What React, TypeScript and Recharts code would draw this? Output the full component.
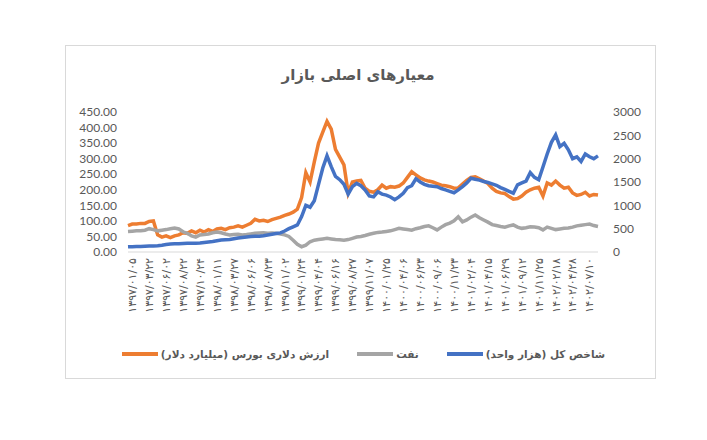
import React from "react";
import { LineChart, Line, XAxis, YAxis } from "recharts";

// تاریخ‌های محور افقی
const tickLabels = [
  "۱۳۹۷/۰۱/۰۵", "۱۳۹۷/۰۳/۲۲", "۱۳۹۷/۰۶/۰۲", "۱۳۹۷/۰۸/۲۲", "۱۳۹۷/۱۰/۲۴",
  "۱۳۹۸/۰۱/۱۱", "۱۳۹۸/۰۳/۲۷", "۱۳۹۸/۰۶/۰۶", "۱۳۹۸/۰۸/۲۳", "۱۳۹۸/۱۱/۰۲",
  "۱۳۹۹/۰۱/۲۴", "۱۳۹۹/۰۴/۰۴", "۱۳۹۹/۰۶/۱۶", "۱۳۹۹/۰۸/۲۷", "۱۳۹۹/۱۱/۰۷",
  "۱۴۰۰/۰۱/۲۵", "۱۴۰۰/۰۴/۰۶", "۱۴۰۰/۰۶/۲۳", "۱۴۰۰/۰۹/۰۶", "۱۴۰۰/۱۱/۲۳",
  "۱۴۰۱/۰۲/۰۴", "۱۴۰۱/۰۴/۱۵", "۱۴۰۱/۰۶/۲۹", "۱۴۰۱/۰۹/۱۲", "۱۴۰۱/۱۱/۲۵",
  "۱۴۰۲/۰۲/۱۸", "۱۴۰۲/۰۴/۲۸", "۱۴۰۲/۰۷/۱۰",
];

// ارزش دلاری بورس (میلیارد دلار) - محور چپ
const dollarValue = [
  85, 90, 90, 92, 92, 98, 100, 55, 48, 52,
  46, 52, 55, 62, 60, 68, 62, 70, 64, 72,
  66, 74, 76, 72, 78, 80, 84, 80, 86, 92,
  105, 100, 102, 98, 104, 108, 112, 118, 122, 128,
  138, 175, 255, 225, 290, 350, 385, 420, 395, 330,
  305, 280, 190, 225, 228, 230, 205, 195, 192, 200,
  215, 205, 210, 208, 212, 222, 240, 258, 248, 238,
  232, 228, 225, 220, 215, 213, 210, 205, 206, 218,
  230, 240, 242, 235, 228, 220, 205, 195, 190, 188,
  178, 170, 172, 180, 192, 200, 205, 208, 180, 222,
  215, 228, 215, 205, 208, 190, 182, 185, 192, 180,
  185, 183,
];

// نفت - محور چپ
const oil = [
  66, 67, 68, 68, 70, 75, 72, 68, 70, 72,
  75, 77, 74, 65, 60, 52, 48, 55, 56, 58,
  62, 64, 62, 58, 55, 56, 57, 55, 56, 58,
  60, 61, 62, 60, 61, 60, 58, 55, 50, 38,
  25, 17, 22, 33, 38, 40, 42, 44, 42, 40,
  39, 38, 40, 44, 48, 50, 53, 57, 60, 63,
  64, 66, 68, 72, 76, 74, 72, 70, 75, 78,
  82, 84, 78, 71, 80, 88, 93, 100, 113, 97,
  103, 112, 119, 110, 103, 96, 88, 85, 82, 80,
  84, 87, 80, 76, 78, 81, 80, 78, 71, 80,
  76, 72, 74, 76, 77, 80, 84, 86, 88, 90,
  85, 82,
];

// شاخص کل (هزار واحد) - محور راست
const tepix = [
  110, 115, 118, 120, 125, 128, 130, 135, 145, 160,
  172, 175, 178, 182, 185, 188, 190, 195, 205, 215,
  225, 240, 255, 262, 270, 285, 300, 310, 320, 330,
  335, 340, 350, 365, 380, 395, 410, 450, 500, 540,
  580, 760, 1000, 960, 1100, 1450, 1800, 2060, 1830, 1620,
  1550, 1450, 1240, 1400, 1470, 1420, 1330, 1200, 1180, 1290,
  1240, 1220, 1180, 1120, 1180, 1260, 1380, 1420, 1570, 1500,
  1450, 1420, 1410, 1400, 1360, 1330, 1300, 1270, 1330, 1400,
  1480, 1580, 1560, 1540, 1510, 1490, 1460, 1430, 1380, 1340,
  1300, 1260, 1440, 1480, 1520, 1700, 1600, 1550, 1820, 2100,
  2350, 2510, 2260, 2330, 2190, 2000, 2040, 1940, 2100, 2040,
  2000, 2060,
];

const leftTicks = [0, 50, 100, 150, 200, 250, 300, 350, 400, 450];
const rightTicks = [0, 500, 1000, 1500, 2000, 2500, 3000];

const data = dollarValue.map((v, i) => ({
  i,
  dollarValue: v,
  oil: oil[i],
  tepix: tepix[i],
}));
const tickIdx = tickLabels.map((_, k) => 1 + 4 * k);

const TEXT = "#595959";
const FA_FONT = "'DejaVu Sans', sans-serif";

const DateTick = ({ x, y, payload }: any) => (
  <g transform={`translate(${x},${y})`}>
    <text
      transform="rotate(-90)"
      dy="0.35em"
      textAnchor="end"
      fill={TEXT}
      fontSize={11}
      fontFamily={FA_FONT}
    >
      {tickLabels[(payload.value - 1) / 4]}
    </text>
  </g>
);

const legendItems = [
  { name: "ارزش دلاری بورس (میلیارد دلار)", color: "#ED7D31" },
  { name: "نفت", color: "#A5A5A5" },
  { name: "شاخص کل (هزار واحد)", color: "#4472C4" },
];

export default function App() {
  return (
    <div style={{ position: "absolute", left: 0, top: 0, width: 707, height: 440, background: "#fff" }}>
      <div
        style={{
          position: "absolute",
          left: 65,
          top: 45,
          width: 589,
          height: 332,
          border: "1px solid #D9D9D9",
        }}
      />
      <div
        dir="rtl"
        style={{
          position: "absolute",
          top: 66,
          left: 0,
          width: 716,
          textAlign: "center",
          fontFamily: FA_FONT,
          fontWeight: "bold",
          fontSize: 15,
          color: TEXT,
        }}
      >
        معیارهای اصلی بازار
      </div>
      <div style={{ position: "absolute", left: 0, top: 0 }}>
        <LineChart width={707} height={440} data={data} margin={{ top: 112, right: 0, bottom: 0, left: 0 }}>
          <XAxis
            dataKey="i"
            type="number"
            domain={[0, 111]}
            ticks={tickIdx}
            interval={0}
            height={188}
            tick={<DateTick />}
            tickLine={false}
            tickSize={6}
            tickMargin={0}
            stroke="#D9D9D9"
          />
          <YAxis
            yAxisId="left"
            width={128}
            domain={[0, 450]}
            ticks={leftTicks}
            interval={0}
            tickFormatter={(v) => v.toFixed(2)}
            axisLine={false}
            tickLine={false}
            tickSize={0}
            tickMargin={11}
            tick={{ fill: TEXT, fontSize: 12, fontFamily: "Lato" }}
          />
          <YAxis
            yAxisId="right"
            orientation="right"
            width={109}
            domain={[0, 3000]}
            ticks={rightTicks}
            interval={0}
            axisLine={false}
            tickLine={false}
            tickSize={0}
            tickMargin={15}
            tick={{ fill: TEXT, fontSize: 12, fontFamily: "Lato" }}
          />
          <Line yAxisId="left" dataKey="dollarValue" stroke="#ED7D31" strokeWidth={3.5} dot={false} isAnimationActive={false} />
          <Line yAxisId="left" dataKey="oil" stroke="#A5A5A5" strokeWidth={3.5} dot={false} isAnimationActive={false} />
          <Line yAxisId="right" dataKey="tepix" stroke="#4472C4" strokeWidth={3.5} dot={false} isAnimationActive={false} />
        </LineChart>
      </div>
      <div
        style={{
          position: "absolute",
          top: 348,
          left: 0,
          width: 727,
          display: "flex",
          justifyContent: "center",
          alignItems: "center",
          gap: 28,
          fontFamily: FA_FONT,
          fontSize: 10.5,
          fontWeight: "bold",
          color: TEXT,
        }}
      >
        {legendItems.map((it) => (
          <div key={it.name} style={{ display: "flex", alignItems: "center", gap: 3 }}>
            <span style={{ display: "inline-block", width: 36, height: 4, background: it.color }} />
            <span dir="rtl">{it.name}</span>
          </div>
        ))}
      </div>
    </div>
  );
}
